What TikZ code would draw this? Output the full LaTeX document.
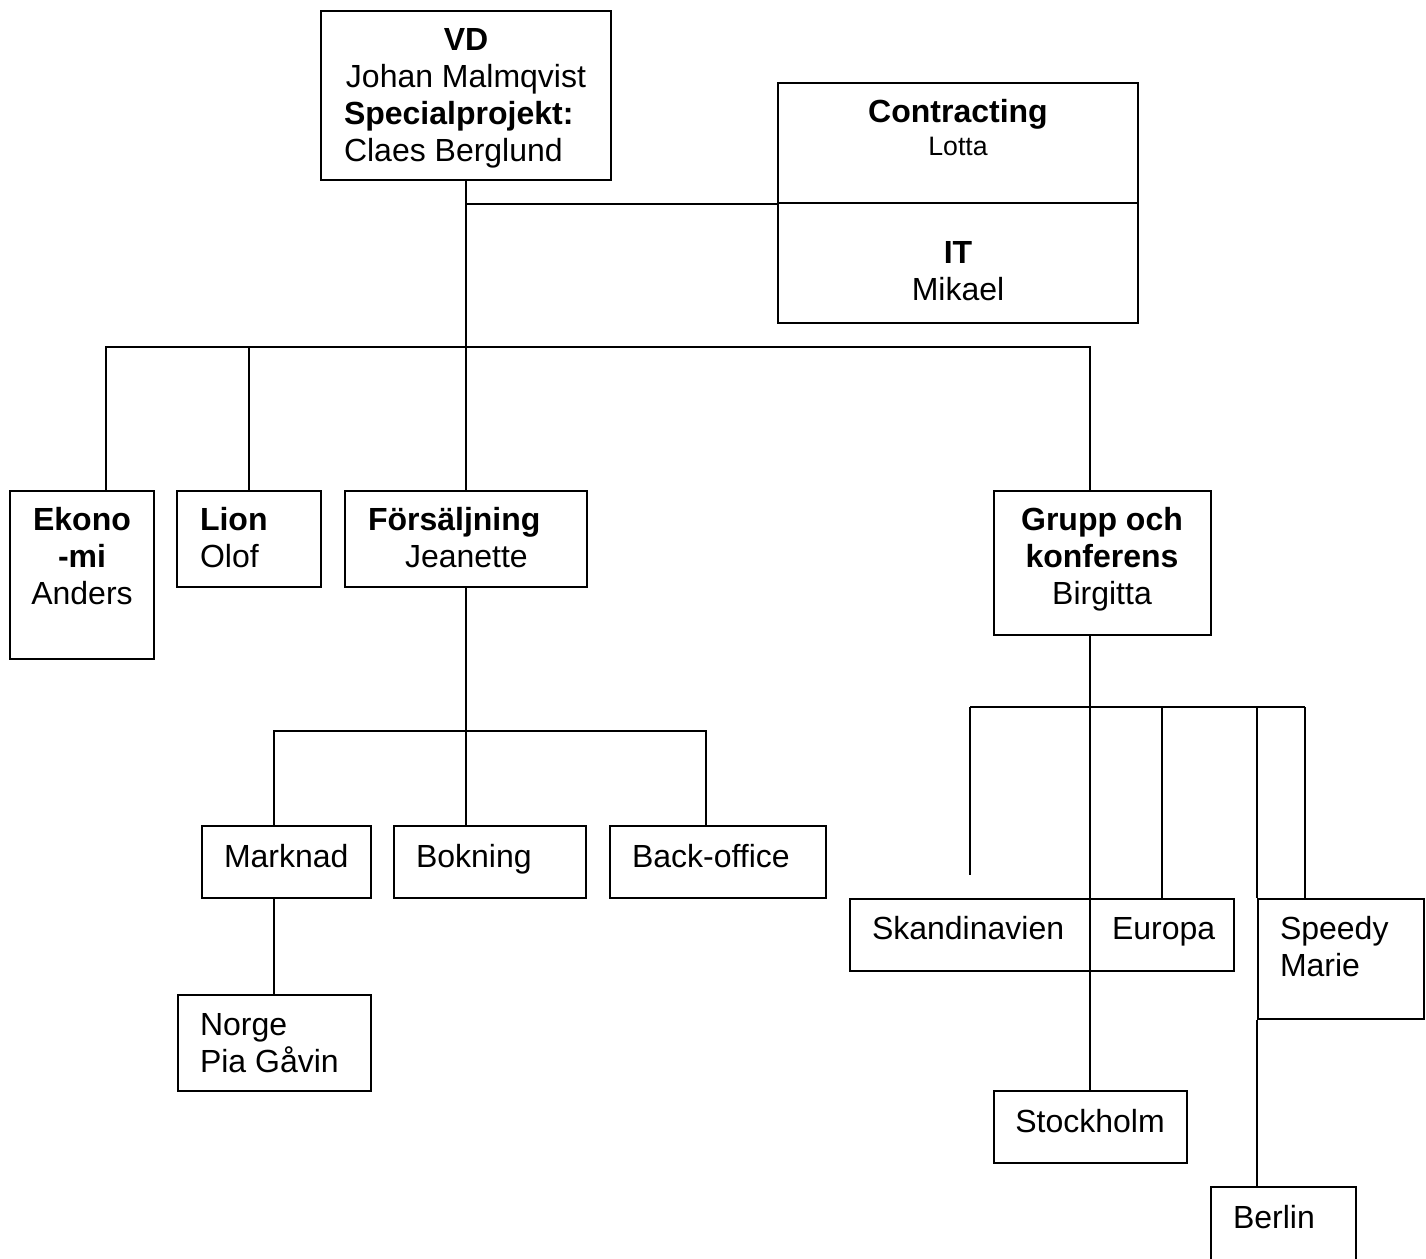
\documentclass[tikz,border=0pt]{standalone}
\usepackage{fontspec}
\setmainfont{Liberation Sans}
\usetikzlibrary{fit}
\begin{document}
\begin{tikzpicture}[x=0.375pt,y=-0.375pt,line width=0.75pt,
  box/.style={draw,rectangle,inner sep=0pt},
  txt/.style={inner sep=0pt,font=\fontsize{12}{13.8}\selectfont},
  btxt/.style={inner sep=0pt,font=\fontsize{12}{13.8}\selectfont\bfseries},
  stxt/.style={inner sep=0pt,font=\fontsize{10}{11.5}\selectfont},
  lft/.style={anchor=base west},
  ctr/.style={anchor=base}]
\clip (0,0) rectangle (1426,1258);
\fill[white] (0,0) rectangle (1426,1258);
% boxes
\node[box,fit={(321,11)(611,180)}] (vd) {};
\node[box,fit={(778,83)(1138,203)}] (con) {};
\node[box,fit={(778,203)(1138,323)}] (it) {};
\node[box,fit={(10,491)(154,659)}] (eko) {};
\node[box,fit={(177,491)(321,587)}] (lion) {};
\node[box,fit={(345,491)(587,587)}] (fors) {};
\node[box,fit={(994,491)(1211,635)}] (grp) {};
\node[box,fit={(202,826)(371,898)}] (mark) {};
\node[box,fit={(394,826)(586,898)}] (bok) {};
\node[box,fit={(610,826)(826,898)}] (back) {};
\node[box,fit={(178,995)(371,1091)}] (norge) {};
\node[box,fit={(850,899)(1090,971)}] (skan) {};
\node[box,fit={(1090,899)(1234,971)}] (eur) {};
\node[box,fit={(1258,899)(1424,1019)}] (spd) {};
\node[box,fit={(994,1091)(1187,1163)}] (sth) {};
\node[box,fit={(1211,1187)(1356,1268)}] (ber) {};
% texts
\node[btxt,ctr] (tvd1) at (466,50) {VD};
\node[txt,ctr] (tvd2) at (466,87) {Johan Malmqvist};
\node[btxt,lft] (tvd3) at (343,124) {Specialprojekt:};
\node[txt,lft] (tvd4) at (343,161) {Claes Berglund};
\node[btxt,ctr] (tcon1) at (958,122) {Contracting};
\node[stxt,ctr] (tcon2) at (958,155) {Lotta};
\node[btxt,ctr] (tit1) at (958,263) {IT};
\node[txt,ctr] (tit2) at (958,300) {Mikael};
\node[btxt,ctr] (teko1) at (82,530) {Ekono};
\node[btxt,ctr] (teko2) at (82,567) {-mi};
\node[txt,ctr] (teko3) at (82,604) {Anders};
\node[btxt,lft] (tlion1) at (199,530) {Lion};
\node[txt,lft] (tlion2) at (199,567) {Olof};
\node[btxt,lft] (tfors1) at (367,530) {Försäljning};
\node[txt,lft] (tfors2) at (404,567) {Jeanette};
\node[btxt,ctr] (tgrp1) at (1102,530) {Grupp och};
\node[btxt,ctr] (tgrp2) at (1102,567) {konferens};
\node[txt,ctr] (tgrp3) at (1102,604) {Birgitta};
\node[txt,lft] (tmark) at (223,867) {Marknad};
\node[txt,lft] (tbok) at (415,867) {Bokning};
\node[txt,lft] (tback) at (631,867) {Back-office};
\node[txt,lft] (tnor1) at (199,1035) {Norge};
\node[txt,lft] (tnor2) at (199,1072) {Pia Gåvin};
\node[txt,lft] (tskan) at (871,939) {Skandinavien};
\node[txt,lft] (teur) at (1111,939) {Europa};
\node[txt,lft] (tspd1) at (1279,939) {Speedy};
\node[txt,lft] (tspd2) at (1279,976) {Marie};
\node[txt,ctr] (tsth) at (1090,1132) {Stockholm};
\node[txt,lft] (tber) at (1232,1228) {Berlin};
% connectors
\coordinate (bus) at (466,347);
\coordinate (b1) at (106,347);
\coordinate (b4) at (1090,347);
\draw (vd.south) -- (bus);
\draw (vd.south |- con.south) -- (con.south west);
\draw (b1 |- eko.north) -- (b1) -- (b4) -- (b4 |- grp.north);
\draw (lion.north |- b1) -- (lion.north);
\draw (bus) -- (fors.north);
\coordinate (s1) at (274,731);
\coordinate (s3) at (706,731);
\draw (fors.south) -- (fors.south |- s1);
\draw (s1 |- mark.north) -- (s1) -- (s3) -- (s3 |- back.north);
\draw (fors.south |- s1) -- (fors.south |- bok.north);
\draw (s1 |- mark.south) -- (s1 |- norge.north);
\coordinate (gc) at (1090,707);
\coordinate (g0) at (970,707);
\coordinate (g4) at (1305,707);
\coordinate (gend) at (970,875);
\draw (gc |- grp.south) -- (gc |- sth.north);
\draw (g0) -- (g4);
\draw (g0) -- (gend);
\draw (eur.north |- g0) -- (eur.north);
\draw (g4) -- (g4 |- spd.north);
\draw (spd.north west |- g0) -- (spd.north west);
\draw (spd.south west) -- (spd.south west |- ber.north);
\end{tikzpicture}
\end{document}
